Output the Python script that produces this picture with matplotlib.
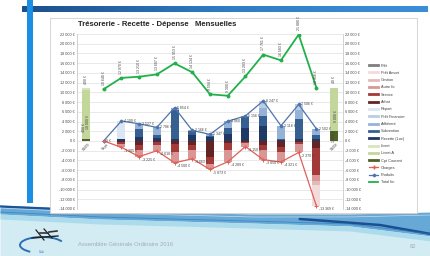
import matplotlib
matplotlib.use("Agg")
import matplotlib.pyplot as plt
import numpy as np
from matplotlib.lines import Line2D
from matplotlib.patches import Rectangle, Arc
from matplotlib.colors import LinearSegmentedColormap

plt.rcParams['font.family'] = ['Liberation Sans', 'DejaVu Sans']

# ---------------- data ----------------
categories = ["01/09", "Sept", "Oct", "Nov", "Déc", "Janv", "Févr", "Mars",
              "Avr", "Mai", "Juin", "Juil", "Août", "Sept", "31/08"]

# recettes (stacked upward)
recette_loc    = [0, 0, 300, 900, 600, 500, 1300, 800, 1500, 2600, 3100, 200, 400, 500, 0]
subvention     = [0, 0, 0, 1500, 700, 5900, 700, 300, 1100, 2300, 2100, 300, 4100, 700, 0]
adherent       = [0, 0, 200, 1127, 1486, 454, 166, 247, 1460, 256, 1500, 2618, 1800, 1302, 0]
pret_financier = [0, 0, 0, 0, 0, 0, 0, 0, 0, 0, 1547, 0, 1206, 0, 0]
report         = [0, 0, 3600, 0, 0, 0, 0, 0, 0, 0, 0, 0, 0, 0, 0]

# dépenses (stacked downward)
achat       = [0, 0, -300, -800, -300, -700, -900, -3300, -500, -200, -900, -1200, -300, -1500, 0]
service     = [0, 0, -400, -1000, -500, -1600, -900, -1500, -1300, -300, -900, -1000, -300, -5500, 0]
autre_fo    = [0, 0, -605, -1425, -1218, -2200, -1863, -1073, -2489, -650, -2050, -2121, -1770, -1300, 0]
gestion     = [0, 0, 0, 0, 0, 0, 0, 0, 0, 0, 0, 0, 0, -700, 0]
pret_amort  = [0, 0, 0, 0, 0, 0, 0, 0, 0, 0, 0, 0, 0, -4369, 0]
pret        = [0] * 15

# trésorerie (début / fin)
cpt_courant = [400, 0, 0, 0, 0, 0, 0, 0, 0, 0, 0, 0, 0, 0, 1950]
livret_a    = [10000, 0, 0, 0, 0, 0, 0, 0, 0, 0, 0, 0, 0, 0, 9000]
livret      = [400, 0, 0, 0, 0, 0, 0, 0, 0, 0, 0, 0, 0, 0, 40]

nan = np.nan
charges   = [nan, 0, -1305, -3225, -2018, -4500, -3663, -5873, -4289, -1150, -3850, -4321, -2370, -13369, nan]
produits  = [nan, 0, 4100, 3527, 2786, 6854, 2166, 1347, 4060, 5156, 8247, 3118, 7506, 2502, nan]
total_fin = [nan, 10640, 12970, 13210, 13687, 15953, 14134, 9594, 9300, 13283, 17761, 16583, 21880, 10956, nan]

def fmt(v):
    return f"{v:,.0f}".replace(",", " ") + " €"

# ---------------- figure / slide ----------------
W, H = 431, 256
fig = plt.figure(figsize=(W / 100, H / 100), dpi=100)
bg = fig.add_axes([0, 0, 1, 1], zorder=-5)
bg.axis('off')

# wave at the bottom
xs = np.linspace(0, W, 300)
u = np.interp(xs, [0, 100, 250, 350, 431], [205, 210, 214, 214, 212])
lo = np.interp(xs, [0, 100, 250, 350, 431], [214, 219, 223, 226, 236])
bg.fill_between(xs, lo, H, color='#d3ecf3', lw=0)
bg.fill_between(xs, u, lo, color='#66a8d6', lw=0)
bg.fill_between(xs, lo, lo + 5, color='#acdcec', lw=0)
bg.plot([0, 60, 140], [206.5, 209, 213], color='#1c5597', lw=1.6, solid_capstyle='butt')
bg.plot([300, 380, 431], [219, 225, 234], color='#1c4f8f', lw=1.8)
bg.plot(xs, lo - 2, color='#2f78ba', lw=0.6, alpha=0.7)
bg.plot(xs, u + 3, color='#ffffff', lw=0.5, alpha=0.6)

# top gradient bar
cmap = LinearSegmentedColormap.from_list('b', ['#1d4f8c', '#2e7cc4', '#3b8fd6'])
bg.imshow(np.linspace(0, 1, 200).reshape(1, -1), cmap=cmap, extent=(22, 428, 12.5, 7),
          aspect='auto', zorder=1)
# left vertical bar
bg.add_patch(Rectangle((27, 0), 6, 203, color='#1b8fe3', zorder=1.5, lw=0))

# chart box with shadow
bg.add_patch(Rectangle((51.5, 19.5), 367, 195, facecolor='#a8a8a8', alpha=0.35, lw=0, zorder=2))
bg.add_patch(Rectangle((50, 18), 367, 195, facecolor='white', edgecolor='#d0d0d0', lw=0.6, zorder=3))

# logo
bg.add_patch(Arc((42, 245), 44, 16, theta1=150, theta2=350, color='#2c6fb6', lw=1.4, zorder=4))
bg.plot([32, 58], [238, 236], color='#222222', lw=1.0, zorder=4)
bg.plot([36, 44], [230, 240], color='#222222', lw=0.9, zorder=4)
bg.plot([44, 52], [229, 238], color='#222222', lw=0.9, zorder=4)
bg.plot([40, 48], [233, 233], color='#333333', lw=1.2, zorder=4)
bg.plot([49, 57], [232, 231], color='#333333', lw=1.2, zorder=4)
bg.text(42, 252, "Club", fontsize=2, color='#2c6fb6', ha='center', va='center', zorder=4)

bg.text(78, 245, "Assemblée Générale Ordinaire 2016", fontsize=4.2, color='#a3acb5',
        ha='left', va='center', zorder=4)
bg.text(416, 246, "62", fontsize=4.2, color='#a3acb5', ha='right', va='center', zorder=4)

bg.set_xlim(0, W)
bg.set_ylim(H, 0)

# title
fig.text(78 / W, 1 - 25 / H, "Trésorerie - Recette - Dépense   Mensuelles", fontsize=5.6,
         weight='bold', ha='left', va='center', color='#262626')

# ---------------- chart ----------------
ax = fig.add_axes([77 / W, 1 - 209 / H, (343 - 77) / W, (209 - 34) / H])
ax.patch.set_alpha(0)
x = np.arange(len(categories))
bw = 0.45

bottom = np.zeros(len(x))
pos_series = [(recette_loc, '#1f3864'), (subvention, '#376092'), (adherent, '#95b3d7'),
              (pret_financier, '#b9cde5'), (report, '#dce6f2')]
for vals, c in pos_series:
    v = np.array(vals, float)
    ax.bar(x, v, bw, bottom=bottom, color=c, zorder=2, lw=0)
    bottom += v

bottom = np.zeros(len(x))
neg_series = [(achat, '#632523'), (service, '#a33a37'), (autre_fo, '#d99694'),
              (gestion, '#e6b9b8'), (pret_amort, '#f2dcdb'), (pret, '#7f7f7f')]
for vals, c in neg_series:
    v = np.array(vals, float)
    ax.bar(x, v, bw, bottom=bottom, color=c, zorder=2, lw=0)
    bottom += v

bottom = np.zeros(len(x))
green_series = [(cpt_courant, '#4f6228'), (livret_a, '#c3d69b'), (livret, '#d7e4bd')]
for vals, c in green_series:
    v = np.array(vals, float)
    ax.bar(x, v, bw, bottom=bottom, color=c, zorder=2, lw=0)
    bottom += v

ax.plot(x, total_fin, color='#22b04b', lw=1.3, marker='o', ms=1.8, zorder=4)
ax.plot(x, produits, color='#4f74a8', lw=0.9, marker='D', ms=1.4, zorder=4)
ax.plot(x, charges, color='#e0605a', lw=0.9, marker='+', ms=3, mew=0.7, zorder=4)

lab_kw = dict(fontsize=2.5, color='#404040', textcoords='offset points', zorder=5)
for i, v in enumerate(total_fin):
    if not np.isnan(v):
        ax.annotate(fmt(v), (i, v), xytext=(0, 3), rotation=90, ha='center', va='bottom',
                    annotation_clip=False, **lab_kw)
for i, v in enumerate(produits):
    if not np.isnan(v):
        ax.annotate(fmt(v), (i, v), xytext=(2, 0), ha='left', va='center', **lab_kw)
for i, v in enumerate(charges):
    if not np.isnan(v) and v != 0:
        ax.annotate(fmt(v), (i, v), xytext=(2, -1), ha='left', va='top', **lab_kw)

# labels for the treasury bars
for i in (0, len(x) - 1):
    top = cpt_courant[i] + livret_a[i] + livret[i]
    ax.annotate(fmt(livret[i]), (i, top), xytext=(0, 3), rotation=90, ha='center',
                va='bottom', **lab_kw)
    ax.text(i + 0.1, cpt_courant[i] + livret_a[i] * 0.35, fmt(livret_a[i]), rotation=90,
            ha='center', va='center', fontsize=2.5, color='#404040', zorder=5)
    ax.text(i - 0.1 if i == 0 else i, max(cpt_courant[i] / 2, 2800 if i == 0 else 0),
            fmt(cpt_courant[i]), rotation=90, ha='center', va='center',
            fontsize=2.5, color='#404040', zorder=5)

# category labels along the zero line (behind the bars)
for i, lab in enumerate(categories):
    ax.text(i + 0.15, -350, lab, rotation=45, rotation_mode='anchor', ha='right', va='top',
            fontsize=2.7, color='#404040', zorder=1.5)

ax.set_xlim(-0.5, len(x) - 0.5)
ax.set_xticks([])
ax.set_ylim(-14000, 22000)
yt = list(range(-14000, 22001, 2000))
ax.set_yticks(yt)
ax.set_yticklabels([fmt(v) for v in yt])
ax.tick_params(axis='y', labelsize=2.7, length=0, pad=1.5, labelright=True,
               labelcolor='#404040')
ax.grid(axis='y', color='#d9d9d9', lw=0.4)
ax.set_axisbelow(True)
for s in ('top', 'bottom'):
    ax.spines[s].set_visible(False)
for s in ('left', 'right'):
    ax.spines[s].set_color('#bfbfbf')
    ax.spines[s].set_linewidth(0.5)

# legend
handles = [
    Line2D([], [], color='#7f7f7f', lw=2), Line2D([], [], color='#f2dcdb', lw=2),
    Line2D([], [], color='#e6b9b8', lw=2), Line2D([], [], color='#d99694', lw=2),
    Line2D([], [], color='#a33a37', lw=2), Line2D([], [], color='#632523', lw=2),
    Line2D([], [], color='#dce6f2', lw=2), Line2D([], [], color='#b9cde5', lw=2),
    Line2D([], [], color='#95b3d7', lw=2), Line2D([], [], color='#376092', lw=2),
    Line2D([], [], color='#1f3864', lw=2), Line2D([], [], color='#d7e4bd', lw=2),
    Line2D([], [], color='#c3d69b', lw=2), Line2D([], [], color='#4f6228', lw=2),
    Line2D([], [], color='#e0605a', lw=0.9, marker='+', ms=3),
    Line2D([], [], color='#4f74a8', lw=0.9, marker='D', ms=1.4),
    Line2D([], [], color='#22b04b', lw=1.3),
]
labels = ["Prêt", "Prêt Amort", "Gestion", "Autre fo", "Service", "Achat", "Report",
          "Prêt Financier", "Adhérent", "Subvention", "Recette (Loc)", "Livret",
          "Livret A", "Cpt Courant", "Charges", "Produits", "Total fin"]
fig.legend(handles, labels, loc='center left', bbox_to_anchor=(367 / W, 1 - 124 / H),
           frameon=False, fontsize=2.8, handlelength=2.4, handletextpad=0.6,
           labelspacing=0.85, borderpad=0, labelcolor='#404040')

fig.savefig('out.png', dpi=100)
